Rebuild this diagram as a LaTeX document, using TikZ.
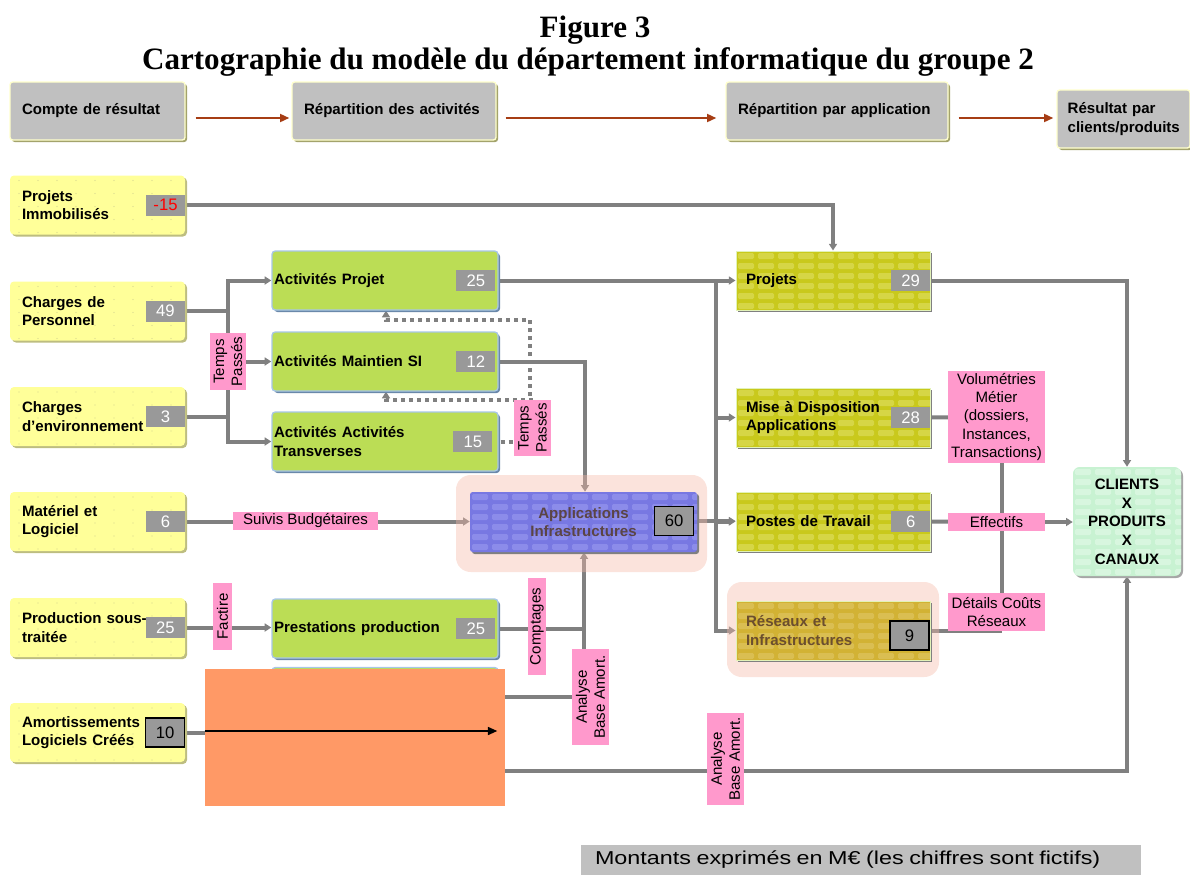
\documentclass[tikz,border=0pt]{standalone}
\usepackage{fontspec}
\setmainfont{Liberation Sans}
\newfontfamily\titlefont{Liberation Serif}
\usepackage{graphicx}
\usepackage{xcolor}
\usetikzlibrary{arrows.meta,calc}

\definecolor{hgray}{HTML}{C0C0C0}
\definecolor{hborder}{HTML}{FFFFCC}
\definecolor{hshadow}{HTML}{A3A36B}
\definecolor{hred}{HTML}{A63D14}
\definecolor{yfill}{HTML}{FFFF99}
\definecolor{ydot}{HTML}{D6D690}
\definecolor{yshadow}{HTML}{BDBD80}
\definecolor{gfill}{HTML}{BBDD55}
\definecolor{gborder}{HTML}{A8C6E8}
\definecolor{gshadow}{HTML}{6A88AA}
\definecolor{ofill}{HTML}{C9C91C}
\definecolor{obrick}{HTML}{D6D646}
\definecolor{oborder}{HTML}{E2F2B8}
\definecolor{rfill}{HTML}{D2B234}
\definecolor{rbrick}{HTML}{DABE52}
\definecolor{rtext}{HTML}{6B4E2E}
\definecolor{bfill}{HTML}{7878E2}
\definecolor{bbrick}{HTML}{8C8CEA}
\definecolor{btext}{HTML}{5B4545}
\definecolor{cfill}{HTML}{C8F2D2}
\definecolor{cbrick}{HTML}{D8F6DF}
\definecolor{pinkbg}{HTML}{F5B9A8}
\definecolor{plabel}{HTML}{FF99CC}
\definecolor{numgray}{HTML}{999999}
\definecolor{lgray}{HTML}{808080}
\definecolor{masque}{HTML}{FF9966}

\pgfdeclarelayer{liens}
\pgfdeclarelayer{teinte}
\pgfsetlayers{liens,teinte,main}

\tikzset{
  boxshadow/.style={preaction={fill=#1,transform canvas={shift={(1.5pt,-1.5pt)}}}},
  bricks/.style={path picture={\foreach \i in {0,...,11} \foreach \j in {0,...,10}
      \fill[#1,rounded corners=1pt] ($(path picture bounding box.north west)+(\i*20+2,\j*10+2)$) rectangle ++(16,6);}},
  ydots/.style={path picture={\foreach \i in {0,...,9} \foreach \j in {0,...,4}
      \fill[ydot] ($(path picture bounding box.north west)+(\i*19+9,\j*13+5)$) circle (0.5pt);}},
  boxfont/.style={font=\bfseries\fontsize{11.3}{14}\selectfont},
  hbox/.style={rectangle,rounded corners=2pt,fill=hgray,draw=hborder,line width=1pt,boxshadow=hshadow,boxfont,align=left,inner xsep=9pt,minimum height=43.5pt},
  ybox/.style={rectangle,rounded corners=3pt,fill=yfill,boxshadow=yshadow,ydots,boxfont,align=left,inner xsep=9pt,text width=113.25pt,minimum height=44.25pt},
  gbox/.style={rectangle,rounded corners=2.5pt,fill=gfill,draw=gborder,line width=1pt,boxshadow=gshadow,boxfont,align=left,inner xsep=1.5pt,text width=166.5pt,minimum height=44.25pt},
  obox/.style={rectangle,fill=ofill,bricks=obrick,draw=oborder,line width=0.75pt,boxshadow=gray,boxfont,align=left,inner xsep=7.5pt,text width=130.5pt,minimum height=44.25pt},
  numbox/.style={rectangle,fill=numgray,text=white,font=\fontsize{12.5}{14}\selectfont,minimum width=29.25pt,minimum height=15.75pt,inner sep=0pt,anchor=east},
  numboxk/.style={numbox,draw=black,line width=0.9pt,text=black,minimum height=21.75pt},
  plab/.style={rectangle,fill=plabel,font=\fontsize{11.3}{13.6}\selectfont,align=center,inner sep=0pt},
  gline/.style={draw=lgray,line width=3pt},
  garrow/.style={gline,-{Triangle[length=5pt,width=6pt]}},
  dotline/.style={draw=lgray,line width=3pt,dash pattern=on 3pt off 3pt},
  harrow/.style={draw=hred,line width=1.5pt,-{Triangle[length=7pt,width=6pt]}},
}

\begin{document}
\begin{tikzpicture}[x=0.75pt,y=-0.75pt]
\path[use as bounding box] (0,0) rectangle (1190,875);

% Title
\node[font=\titlefont\bfseries\fontsize{23.3}{27}\selectfont] (figure) at (595,30) {Figure 3};
\node[font=\titlefont\bfseries\fontsize{23.3}{27}\selectfont] (titre) at (588,62) {Cartographie du modèle du département informatique du groupe 2};

% Header
\node[hbox,text width=113.25pt] (compte) at (97.5,111) {Compte de résultat};
\node[hbox,text width=135pt] (repact) at (394,111) {Répartition des activités};
\node[hbox,text width=148.5pt] (repapp) at (837,111) {Répartition par application};
\node[hbox,text width=83.75pt,inner xsep=8pt] (resclients) at (1123.5,119) {Résultat par\\clients/produits};
\draw[harrow] ($(compte.east)+(10,7)$) -- ($(repact.west)+(-2,7)$);
\draw[harrow] ($(repact.east)+(9,7)$) -- ($(repapp.west)+(-9,7)$);
\draw[harrow] ($(repapp.east)+(10,7)$) -- ($(resclients.west)+(-3,-1)$);

% Comptes (left)
\node[ybox] (immo) at (97.5,205) {Projets\\Immobilisés};
\node[ybox] (perso) at (97.5,311) {Charges de\\Personnel};
\node[ybox] (envir) at (97.5,416.5) {Charges\\d’environnement};
\node[ybox] (mat) at (97.5,521.5) {Matériel et\\Logiciel};
\node[ybox] (prod) at (97.5,627.5) {Production sous-\\traitée};
\node[ybox] (amort) at (97.5,732.5) {Amortissements\\Logiciels Créés};
\node[numbox,text=red] (nimmo) at (immo.east) {-15};
\node[numbox] (nperso) at (perso.east) {49};
\node[numbox] (nenvir) at (envir.east) {3};
\node[numbox] (nmat) at (mat.east) {6};
\node[numbox] (nprod) at (prod.east) {25};
\node[numboxk] (namort) at (amort.east) {10};

% Activites
\node[gbox] (actproj) at (385,280.5) {Activités Projet};
\node[gbox] (actmaint) at (385,361.5) {Activités Maintien SI};
\node[gbox] (acttrans) at (385,441.5) {Activités Activités\\Transverses};
\node[gbox] (prest) at (385,628.5) {Prestations production};
\node[gbox] (cache) at (385,697) {};
\node[numbox] (nactproj) at ($(actproj.east)+(-3,0)$) {25};
\node[numbox] (nmaint) at ($(actmaint.east)+(-3,0)$) {12};
\node[numbox] (ntrans) at ($(acttrans.east)+(-6,0)$) {15};
\node[numbox] (nprest) at ($(prest.east)+(-3,0)$) {25};

% Applications
\node[rectangle,rounded corners=2pt,fill=bfill,bricks=bbrick,boxshadow=gray,text=btext,boxfont,align=center,minimum width=170.25pt,minimum height=45pt] (applis) at (583.5,522) {Applications\\Infrastructures};

% Repartition par application
\node[obox] (projets) at (833,280.5) {Projets};
\node[obox] (mise) at (833,417.5) {Mise à Disposition\\Applications};
\node[obox] (postes) at (833,521.5) {Postes de Travail};
\node[obox,fill=rfill,bricks=rbrick,text=rtext] (reseaux) at (833,630.5) {Réseaux et\\Infrastructures};
\node[numbox] (nprojets) at (projets.east) {29};
\node[numbox] (nmise) at (mise.east) {28};
\node[numbox] (npostes) at (postes.east) {6};

% Resultat
\node[rectangle,rounded corners=5pt,fill=cfill,bricks=cbrick,boxshadow=gray!70,boxfont,align=center,minimum width=81pt,minimum height=81.75pt,inner sep=0pt] (clients) at (1127,521.5) {CLIENTS\\X\\PRODUITS\\X\\CANAUX};

% Pink labels
\node[plab,rotate=90,minimum width=42.75pt,minimum height=27pt] (tp1) at (228,361.5) {Temps\\Passés};
\node[plab,rotate=90,minimum width=42pt,minimum height=27.75pt] (tp2) at (532.5,428) {Temps\\Passés};
\node[plab,minimum width=108.75pt,minimum height=13.5pt] (suivis) at (305.5,521) {Suivis Budgétaires};
\node[plab,rotate=90,minimum width=50.25pt,minimum height=14.25pt] (factire) at (222.5,616.5) {Factire};
\node[plab,rotate=90,minimum width=72.75pt,minimum height=13.5pt] (comptages) at (537,626.5) {Comptages};
\node[plab,rotate=90,minimum width=72pt,minimum height=27.75pt] (abam1) at (590.5,697) {Analyse\\Base Amort.};
\node[plab,rotate=90,minimum width=69pt,minimum height=27.75pt] (abam2) at (725.5,759) {Analyse\\Base Amort.};
\node[plab,minimum width=72.75pt,minimum height=69pt] (volum) at (996.5,417) {Volumétries\\Métier\\(dossiers,\\Instances,\\Transactions)};
\node[plab,minimum width=72.75pt,minimum height=13.5pt] (effectifs) at (996.5,522) {Effectifs};
\node[plab,minimum width=72.75pt,minimum height=28.5pt] (details) at (996.5,612) {Détails Coûts\\Réseaux};

% Numbers over the tint
\node[numboxk] (n60) at ($(applis.east)+(-3,-1)$) {60};
\node[numboxk] (nres) at ($(reseaux.east)+(-1,5)$) {9};

% Orange mask
\node[fill=masque,minimum width=225pt,minimum height=102.75pt,inner sep=0pt] (masquage) at (355,737.5) {};
\draw[black,line width=1.2pt,-{Triangle[length=7pt,width=6pt]}] ($(masquage.west |- namort)+(0,-1.5)$) -- ($(masquage.east |- namort)+(-8,-1.5)$);

% Note
\node[fill=hgray,minimum height=22.5pt,text width=399pt,inner xsep=10.5pt,inner ysep=0pt,align=left] (montants) at (861,860) {\scalebox{1.25}[1]{\fontsize{14}{16}\selectfont Montants exprimés en M€ (les chiffres sont fictifs)}};

% Connectors
\coordinate (tronc) at (716,280.5);
\coordinate (cpt) at (584,628.5);
\coordinate (amo) at (505,771);
\coordinate (pointille) at (386,320);
\begin{pgfonlayer}{liens}
\draw[garrow] (nimmo.east) -| (projets.north);
\draw[gline] (nperso.east) -- (nperso.east -| tp1.center);
\draw[gline] (nenvir.east) -- (nenvir.east -| tp1.center);
\draw[garrow] (tp1.center) |- (actproj.west);
\draw[garrow] (tp1.center) -- (actmaint.west);
\draw[garrow] (tp1.center) |- (acttrans.west);
\draw[garrow] (nactproj.east) -- (projets.west);
\draw[garrow] (tronc) |- (mise.west);
\draw[garrow] (tronc) |- (postes.west);
\draw[garrow] (tronc) |- (reseaux.west);
\draw[garrow] (nmaint.east) -| ($(applis.north)+(1.5,0)$);
\draw[garrow] (nmat.east) -- (nmat.east -| applis.west);
\draw[garrow] (n60.east) -- (n60.east -| postes.west);
\draw[garrow] (nprod.east) -- (nprod.east -| prest.west);
\draw[gline] (nprest.east) -- (cpt);
\draw[garrow] (cpt |- abam1.center) -- (cpt |- applis.south);
\draw[gline] (masquage.east |- abam1.center) -- (abam1.center);
\draw[gline] (namort.east) -- (masquage.west |- namort);
\draw[garrow] (amo) -| (clients.south);
\draw[garrow] (nprojets.east) -| (clients.north);
\draw[gline] (nmise.east) -- (volum.center);
\draw[gline] ($(volum.center)+(5,0)$) -- ($(details.center)+(5,0)$);
\draw[gline] (npostes.east) -- (effectifs.center);
\draw[garrow] (effectifs.center) -- (effectifs.center -| clients.west);
\draw[gline] (reseaux.east) -- ($(details.center |- reseaux.east)+(5,0)$);
\draw[dotline] (ntrans.east) -- (ntrans.east -| tp2.center);
\draw[dotline,-{Triangle[length=5pt,width=6pt]}] ($(tp2.center)+(-3,0)$) |- (pointille) -- (pointille |- actproj.south);
\draw[dotline,-{Triangle[length=5pt,width=6pt]}] ($(tp2.center)+(0,-28)$) -| (pointille |- actmaint.south);
\end{pgfonlayer}

% Tint behind the two highlighted boxes
\begin{pgfonlayer}{teinte}
\fill[pinkbg,fill opacity=0.4,rounded corners=11pt] (456,475) rectangle (707,572);
\fill[pinkbg,fill opacity=0.4,rounded corners=11pt] (727,582) rectangle (939,677);
\end{pgfonlayer}

\end{tikzpicture}
\end{document}
